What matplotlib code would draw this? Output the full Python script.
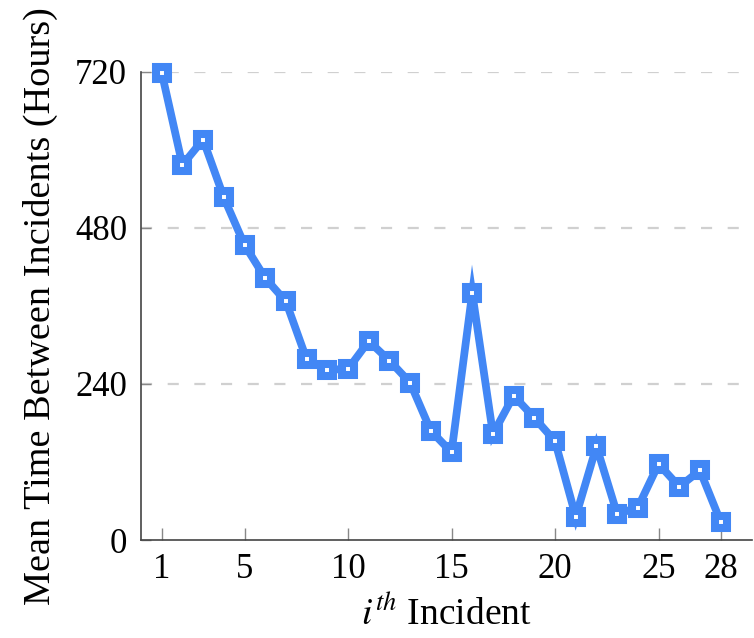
import matplotlib
matplotlib.use("Agg")
import matplotlib.pyplot as plt

# mean time between incidents
incident = list(range(1, 29))
mtbi_hours = [719, 577, 616, 527, 454, 403, 367, 278, 262, 263, 306, 276,
              242, 168, 135, 380, 163, 222, 188, 152, 36, 144, 40, 50,
              117, 82, 107, 28]
x_ticks = [1, 5, 10, 15, 20, 25, 28]
y_ticks = [0, 240, 480, 720]

plt.rcParams['font.family'] = ['Liberation Serif', 'DejaVu Serif']
plt.rcParams['mathtext.fontset'] = 'stix'

blue = '#4287f5'

fig = plt.figure(figsize=(7.54, 6.38), dpi=100)
ax = fig.add_axes([0.187, 0.1536, 0.81, 0.7336])

# dashed horizontal grid
for yv in y_ticks[1:]:
    ax.axhline(yv, color='#d0d0d0', lw=1.6, dashes=(5, 7), zorder=1)

ax.plot(incident, mtbi_hours, color=blue, lw=5.6, marker='s', ms=8,
        mew=5.8, mfc='white', mec=blue, solid_joinstyle='miter',
        clip_on=False, zorder=3)

ax.set_xlim(0, 29.5)
ax.set_ylim(0, 720)
ax.set_xticks(x_ticks)
ax.set_yticks(y_ticks)

ax.spines['top'].set_visible(False)
ax.spines['right'].set_visible(False)
ax.spines['left'].set_color('#444444')
ax.spines['bottom'].set_color('#444444')
ax.spines['left'].set_linewidth(1.2)
ax.spines['bottom'].set_linewidth(1.2)

ax.tick_params(axis='x', direction='in', length=9, width=1, color='#888888',
               labelsize=25, pad=9)
ax.tick_params(axis='y', direction='in', length=7, width=1, color='#888888',
               labelsize=25, pad=10)

ax.set_xlabel('$i^{th}$ Incident', fontsize=27, labelpad=8)
ax.set_ylabel('Mean Time Between Incidents (Hours)', fontsize=27.5, labelpad=12)

fig.savefig('out.png', dpi=100)
